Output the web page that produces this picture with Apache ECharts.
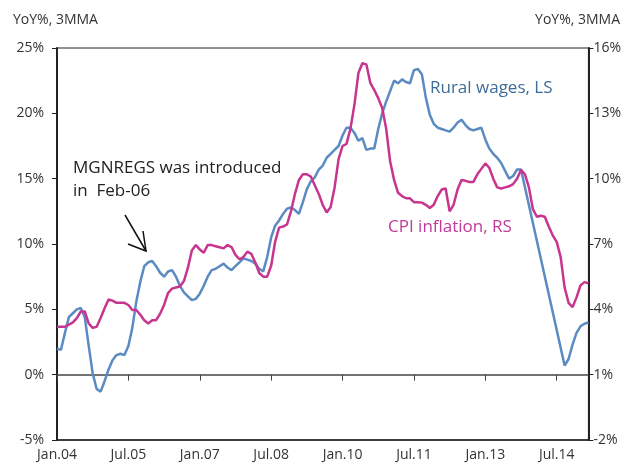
<!DOCTYPE html>
<html>
<head>
<meta charset="utf-8">
<script src="https://cdn.jsdelivr.net/npm/echarts@6/dist/echarts.min.js"></script>
<style>html,body{margin:0;padding:0;background:#fff}#c{width:624px;height:469px}</style>
</head>
<body>
<div id="c"></div>
<script>
// Categories: monthly, Jan.04 .. Mar.15
const monthNames = ['Jan','Feb','Mar','Apr','May','Jun','Jul','Aug','Sep','Oct','Nov','Dec'];
const categories = [];
for (let y = 2004; y <= 2015; y++) {
  for (let m = 0; m < 12; m++) {
    if (categories.length < 135) categories.push(monthNames[m] + '.' + String(y).slice(2));
  }
}

// Rural wages, YoY%, 3MMA (left axis)
const ruralWages = [
  2.0, 1.9, 3.2, 4.4, 4.7, 5.0, 5.1, 4.4, 2.2, 0.1, -1.1, -1.3,
  -0.5, 0.4, 1.1, 1.5, 1.6, 1.5, 2.2, 3.6, 5.6, 7.1, 8.3, 8.6,
  8.7, 8.3, 7.8, 7.5, 7.9, 8.0, 7.5, 6.8, 6.3, 6.0, 5.7, 5.8,
  6.2, 6.8, 7.5, 8.0, 8.1, 8.3, 8.5, 8.2, 8.0, 8.3, 8.6, 8.9,
  8.8, 8.7, 8.5, 8.1, 7.9, 9.0, 10.5, 11.4, 11.8, 12.3, 12.7, 12.8,
  12.6, 12.3, 13.2, 14.2, 14.8, 15.1, 15.7, 16.0, 16.6, 16.9, 17.2, 17.5,
  18.3, 18.9, 18.9, 18.5, 17.9, 18.1, 17.2, 17.3, 17.3, 18.8, 20.0, 20.9,
  21.7, 22.5, 22.3, 22.6, 22.4, 22.3, 23.3, 23.4, 23.0, 21.2, 19.9, 19.2,
  18.9, 18.8, 18.7, 18.6, 18.9, 19.3, 19.5, 19.1, 18.8, 18.7, 18.8, 18.9,
  18.0, 17.3, 16.9, 16.6, 16.2, 15.6, 15.0, 15.2, 15.7, 15.7, null, null,
  null, null, null, null, null, null, null, null, 0.7, 1.2, 2.3, 3.2,
  3.7, 3.9, 4.0
];

// CPI inflation, YoY%, 3MMA (right axis)
const cpiInflation = [
  3.2, 3.2, 3.2, 3.3, 3.4, 3.6, 3.9, 3.9, 3.35, 3.15, 3.2, 3.6,
  4.05, 4.45, 4.4, 4.3, 4.3, 4.3, 4.2, 3.97, 3.97, 3.75, 3.5, 3.35,
  3.5, 3.5, 3.8, 4.2, 4.75, 4.95, 5.0, 5.05, 5.3, 5.9, 6.7, 6.95,
  6.75, 6.6, 6.95, 6.95, 6.9, 6.85, 6.8, 6.95, 6.86, 6.5, 6.3, 6.4,
  6.65, 6.55, 6.15, 5.67, 5.5, 5.5, 6.0, 7.1, 7.75, 7.8, 7.9, 8.5,
  9.3, 9.94, 10.2, 10.2, 10.1, 9.7, 9.3, 8.8, 8.45, 8.7, 9.6, 10.9,
  11.5, 11.6, 12.3, 13.4, 14.85, 15.3, 15.25, 14.4, 14.07, 13.7, 13.24, 12.3,
  10.8, 9.94, 9.35, 9.2, 9.1, 9.1, 8.92, 8.92, 8.9, 8.8, 8.65, 8.8,
  9.2, 9.5, 9.55, 8.5, 8.8, 9.5, 9.94, 9.9, 9.85, 9.85, 10.2, 10.45,
  10.7, 10.5, 10.0, 9.6, 9.55, 9.6, 9.65, 9.75, 10.0, 10.4, 10.2, 9.6,
  8.6, 8.25, 8.3, 8.25, 7.8, 7.4, 7.1, 6.4, 5.0, 4.3, 4.1, 4.55,
  5.1, 5.25, 5.2
];

const leftTicks = { min: -5, max: 25, interval: 5 };
const rightTicks = { min: -2, max: 16, interval: 3 };

const FONT = '"Open Sans", "Noto Sans", sans-serif';
const chart = echarts.init(document.getElementById('c'), null, { renderer: 'canvas' });

chart.setOption({
  animation: false,
  backgroundColor: '#ffffff',
  textStyle: { fontFamily: FONT },
  grid: { left: 57, right: 34, top: 48, bottom: 29, show: true, borderColor: '#222', borderWidth: 1, backgroundColor: 'transparent' },
  xAxis: [
    {
      type: 'category', data: categories, boundaryGap: false,
      position: 'bottom',
      axisLine: { onZero: false, lineStyle: { color: '#222', width: 1.5 } },
      axisTick: { show: false },
      axisLabel: { interval: 17, color: '#333', fontSize: 14, fontFamily: FONT, margin: 8 },
      splitLine: { show: false }
    },
    {
      type: 'category', data: categories, boundaryGap: false,
      position: 'bottom',
      axisLine: { onZero: true, onZeroAxisIndex: 0, lineStyle: { color: '#444', width: 1.5 } },
      axisTick: { show: true, interval: 17, length: 6, lineStyle: { color: '#444', width: 1 } },
      axisLabel: { show: false },
      splitLine: { show: false }
    }
  ],
  yAxis: [
    {
      type: 'value', position: 'left',
      min: leftTicks.min, max: leftTicks.max, interval: leftTicks.interval,
      axisLine: { show: true, lineStyle: { color: '#222', width: 2 } },
      axisTick: { show: true, length: 5, lineStyle: { color: '#222' } },
      axisLabel: { formatter: '{value}%', color: '#333', fontSize: 14, fontFamily: FONT, margin: 13 },
      splitLine: { show: false }
    },
    {
      type: 'value', position: 'right',
      min: rightTicks.min, max: rightTicks.max, interval: rightTicks.interval,
      axisLine: { show: true, lineStyle: { color: '#222', width: 2 } },
      axisTick: { show: true, length: 5, lineStyle: { color: '#222' } },
      axisLabel: { formatter: '{value}%', color: '#333', fontSize: 14, fontFamily: FONT, margin: 5 },
      splitLine: { show: false }
    }
  ],
  series: [
    {
      name: 'Rural wages, LS', type: 'line', xAxisIndex: 0, yAxisIndex: 0,
      data: ruralWages, connectNulls: true, showSymbol: false, smooth: false,
      lineStyle: { color: '#5a8bc2', width: 2.5 }, itemStyle: { color: '#5a8bc2' }
    },
    {
      name: 'CPI inflation, RS', type: 'line', xAxisIndex: 0, yAxisIndex: 1,
      data: cpiInflation, showSymbol: false, smooth: false,
      lineStyle: { color: '#c8358e', width: 2.5 }, itemStyle: { color: '#c8358e' }
    }
  ],
  graphic: [
    { type: 'text', left: 13, top: 13, style: { text: 'YoY%, 3MMA', fill: '#333', font: '14px ' + FONT } },
    { type: 'text', right: 4, top: 13, style: { text: 'YoY%, 3MMA', fill: '#333', font: '14px ' + FONT } },
    { type: 'text', left: 73, top: 160, style: { text: 'MGNREGS was introduced', fill: '#222', font: '17px ' + FONT } },
    { type: 'text', left: 73, top: 183, style: { text: 'in  Feb-06', fill: '#222', font: '17px ' + FONT } },
    { type: 'text', left: 430, top: 80, style: { text: 'Rural wages, LS', fill: '#3d6c98', font: '17px ' + FONT } },
    { type: 'text', left: 388, top: 219, style: { text: 'CPI inflation, RS', fill: '#c2399a', font: '17px ' + FONT } },
    { type: 'polyline', shape: { points: [[125, 215], [146, 251]] }, style: { stroke: '#111', lineWidth: 1.5, fill: null } },
    { type: 'polyline', shape: { points: [[128, 244], [146, 251], [143, 231]] }, style: { stroke: '#111', lineWidth: 1.5, fill: null } }
  ]
});
</script>
</body>
</html>
